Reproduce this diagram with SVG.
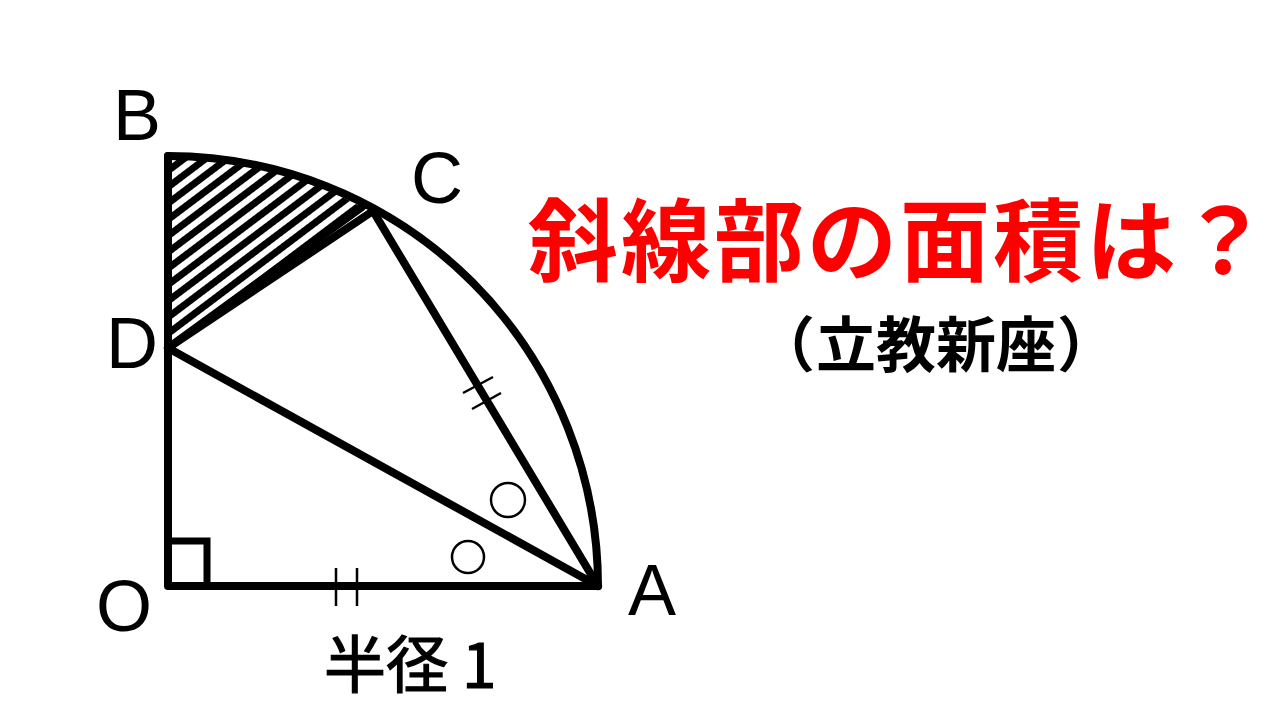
<svg xmlns="http://www.w3.org/2000/svg" width="1280" height="720" viewBox="0 0 1280 720">
<style>
.thick{fill:none;stroke:#000;stroke-width:8;stroke-linecap:round;stroke-linejoin:round}
.thin{fill:none;stroke:#000;stroke-width:2.5}
.lbl{font-family:"Liberation Sans","Noto Sans",sans-serif;font-size:72px;fill:#000}
.jp{font-family:"Noto Sans CJK JP",sans-serif;fill:#000}
</style>
<defs>
<pattern id="hatch" patternUnits="userSpaceOnUse" width="13" height="13" patternTransform="rotate(-37)">
<rect x="0" y="0" width="13" height="7" fill="#000"/>
</pattern>
</defs>
<rect width="1280" height="720" fill="#fff"/>
<g id="shaded">
<path d="M168,156 A430,430 0 0 1 362,207 L168,348 Z" fill="url(#hatch)"/>
</g>
<g id="connectors">
<path class="thick" d="M168,156 L168,586 L598,586"/>
<path class="thick" d="M168,156 A430,430 0 0 1 598,586"/>
<path class="thick" d="M168,348 L362,207"/>
<path class="thick" d="M168,348 L373,211"/>
<path class="thick" d="M373,211 L598,586"/>
<path class="thick" d="M168,348 L598,586"/>
<path fill="none" stroke="#000" stroke-width="7" d="M168,541 L207,541 L207,586"/>
<path class="thin" d="M336,568 L336,606 M357,568 L357,606"/>
<path class="thin" d="M463,393 L493,377 M472,409 L501,393"/>
<circle class="thin" cx="468" cy="557" r="16" stroke-width="3"/>
<circle class="thin" cx="508" cy="500" r="17" stroke-width="3"/>
</g>
<g id="labels">
<text class="lbl" x="113" y="140">B</text>
<text class="lbl" x="411" y="203">C</text>
<text class="lbl" x="106" y="368">D</text>
<text class="lbl" x="96" y="631">O</text>
<text class="lbl" x="628" y="615">A</text>
<text class="jp" x="324" y="688" font-size="62" stroke="#000" stroke-width="1.2">半径 1</text>
</g>
<g id="title">
<text class="jp" x="528" y="274" font-size="90" font-weight="bold" letter-spacing="3" style="fill:#f00">斜線部の面積は？</text>
<text class="jp" y="367" font-size="60" font-weight="bold"><tspan x="755">（</tspan><tspan x="816">立教新座</tspan><tspan x="1057">）</tspan></text>
</g>
</svg>
